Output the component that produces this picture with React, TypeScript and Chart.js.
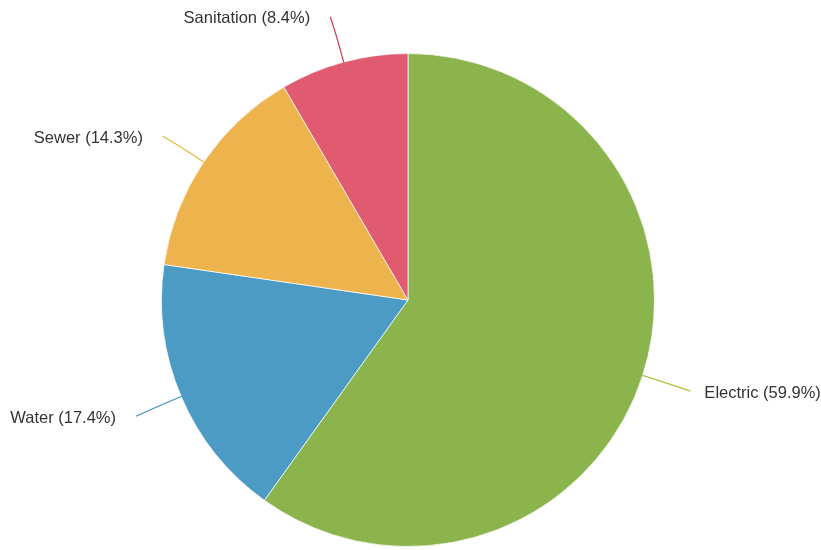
import React, { useEffect, useRef } from "react";
import { Chart, registerables } from "chart.js";

Chart.register(...registerables);

const categories = ["Electric", "Water", "Sewer", "Sanitation"];
const shares = [59.9, 17.4, 14.3, 8.4];
const sliceColors = ["#8cb44c", "#4c9bc5", "#edb44e", "#e15b70"];
const lineColors = ["#a9c33c", "#3f8fc0", "#e2b53c", "#d23a55"];

const leaderPlugin = {
  id: "leaders",
  afterDatasetsDraw(chart: any) {
    const ctx = chart.ctx;
    const meta = chart.getDatasetMeta(0);
    ctx.save();
    meta.data.forEach((arc: any, i: number) => {
      const { x, y, startAngle, endAngle, outerRadius } = arc.getProps(
        ["x", "y", "startAngle", "endAngle", "outerRadius"],
        true
      );
      const mid = (startAngle + endAngle) / 2;
      const c = Math.cos(mid);
      const s = Math.sin(mid);
      const right = c >= 0;
      const p0 = { x: x + c * outerRadius, y: y + s * outerRadius };
      const p1 = { x: x + c * (outerRadius + 30), y: y + s * (outerRadius + 30) };
      const p2 = {
        x: x + c * (outerRadius + 48) + (right ? 2 : -1),
        y: y + s * (outerRadius + 48) + 1,
      };
      ctx.beginPath();
      ctx.moveTo(p0.x, p0.y);
      ctx.quadraticCurveTo(p1.x, p1.y, p2.x, p2.y);
      ctx.strokeStyle = lineColors[i];
      ctx.lineWidth = 1.2;
      ctx.stroke();

      const label = `${categories[i]} (${shares[i].toFixed(1)}%)`;
      ctx.font = "16.5px 'Liberation Sans', Arial, sans-serif";
      ctx.fillStyle = "#333333";
      ctx.textBaseline = "middle";
      ctx.textAlign = right ? "left" : "right";
      ctx.fillText(label, right ? p2.x + 14 : p2.x - 20, p2.y + 2);
    });
    ctx.restore();
  },
};

export default function App() {
  const ref = useRef<HTMLCanvasElement | null>(null);
  useEffect(() => {
    if (!ref.current) return;
    const chart = new Chart(ref.current, {
      type: "pie",
      data: {
        labels: categories,
        datasets: [
          {
            data: shares,
            backgroundColor: sliceColors,
            borderColor: "rgba(255,255,255,0.7)",
            borderWidth: 1,
          },
        ],
      },
      options: {
        responsive: false,
        animation: false,
        layout: { padding: { left: 0, right: 5, top: 53, bottom: 3 } },
        plugins: {
          legend: { display: false },
          tooltip: { enabled: false },
        },
      },
      plugins: [leaderPlugin],
    });
    return () => chart.destroy();
  }, []);
  return (
    <div style={{ position: "absolute", left: 0, top: 0, width: 821, height: 550, background: "#fff" }}>
      <canvas ref={ref} width={821} height={550} />
    </div>
  );
}
